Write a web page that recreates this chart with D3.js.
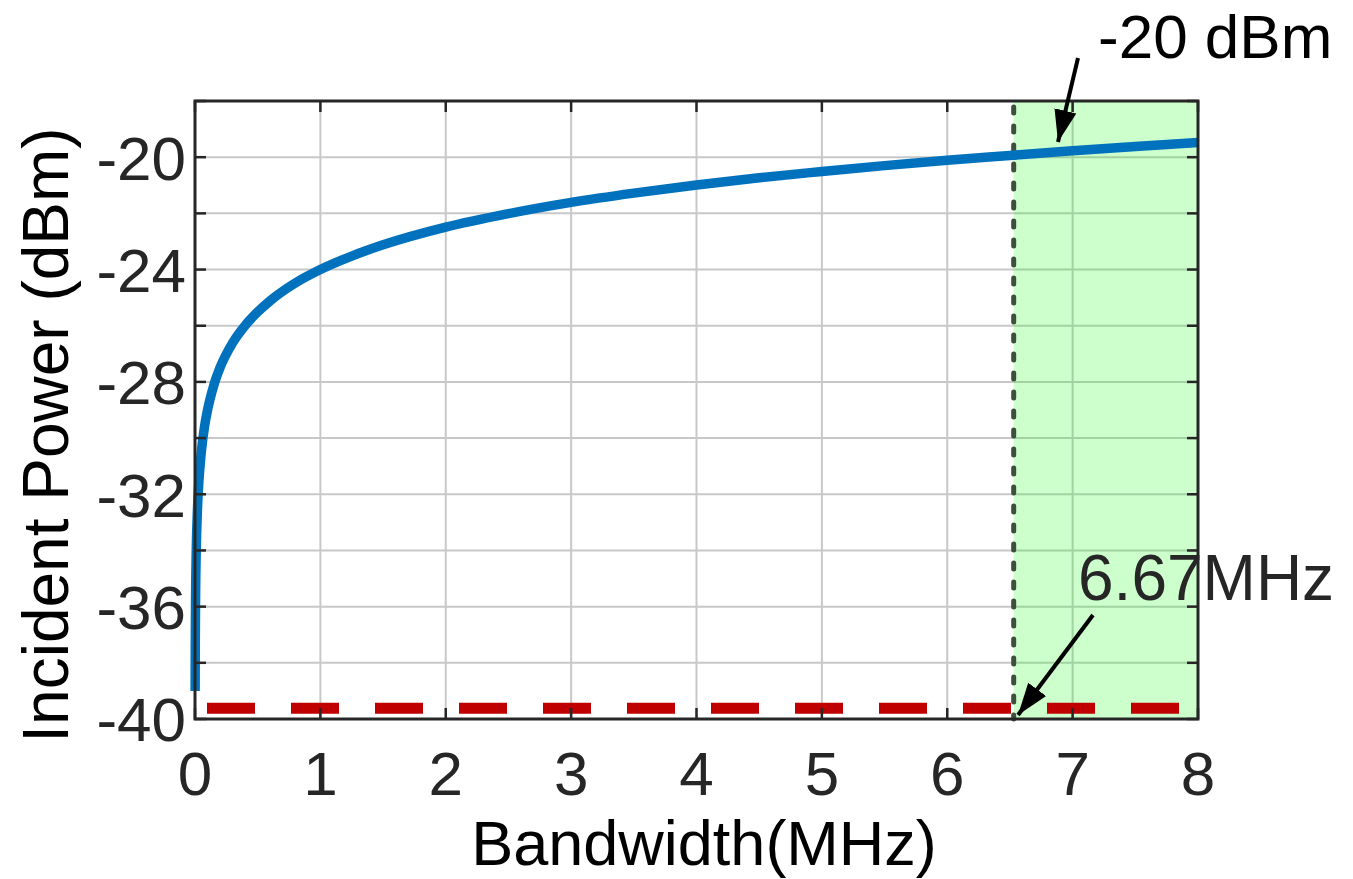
<!DOCTYPE html>
<html>
<head>
<meta charset="utf-8">
<title>Incident Power vs Bandwidth</title>
<script src="https://d3js.org/d3.v7.min.js"></script>
<style>
  body { margin: 0; background: #fff; }
  text { font-family: "Liberation Sans", Arial, sans-serif; }
</style>
</head>
<body>
<svg width="1353" height="879"></svg>
<script>
// data
const bandwidth = [0.001, 0.002, 0.005, 0.01, 0.02, 0.03, 0.05, 0.075, 0.1, 0.15, 0.2, 0.3, 0.4, 0.5, 0.6, 0.8,
                   1.0, 1.25, 1.5, 2, 2.5, 3, 3.5, 4, 4.5, 5, 5.5, 6, 6.5, 7, 7.5, 8];
const power = [-39.0, -37.49, -35.51, -34.0, -32.49, -31.61, -30.51, -29.62, -29.0, -28.12, -27.49, -26.61, -25.99, -25.51, -25.11, -24.48,
               -24.0, -23.52, -23.12, -22.49, -22.01, -21.61, -21.28, -20.99, -20.73, -20.51, -20.30, -20.11, -19.94, -19.77, -19.62, -19.48];
const xTicks = [0, 1, 2, 3, 4, 5, 6, 7, 8];
const yTicks = [-40, -38, -36, -34, -32, -30, -28, -26, -24, -22, -20, -18];
const yLabels = [-40, -36, -32, -28, -24, -20];
const limitBW = 6.53;        // shaded region starts here
const floorLevel = -39.62;   // red dashed line
const labels = { x: "Bandwidth(MHz)", y: "Incident Power (dBm)", top: "-20 dBm", bw: "6.67MHz" };

let svg = d3.select("svg");
const pl = 195, pt = 101, w = 1003, h = 618;
const ink = "#262626";

let x = d3.scaleLinear().domain([0, 8]).range([pl, pl + w]);
let y = d3.scaleLinear().domain([-40, -18]).range([pt + h, pt]);

let g = svg.append("g");

// grid
g.append("g").selectAll("line").data(xTicks).join("line")
    .attr("x1", d => x(d)).attr("x2", d => x(d))
    .attr("y1", pt).attr("y2", pt + h)
    .attr("stroke", "#c8c8c8").attr("stroke-width", 2);
g.append("g").selectAll("line").data(yTicks).join("line")
    .attr("x1", pl).attr("x2", pl + w)
    .attr("y1", d => y(d)).attr("y2", d => y(d))
    .attr("stroke", "#c8c8c8").attr("stroke-width", 2);

// shaded region (semi transparent green)
g.append("rect")
    .attr("x", x(limitBW)).attr("y", pt)
    .attr("width", x(8) - x(limitBW)).attr("height", h)
    .attr("fill", "#00ff00").attr("fill-opacity", 0.2);

// red dashed floor line
g.append("line")
    .attr("x1", x(0)).attr("x2", x(8))
    .attr("y1", y(floorLevel)).attr("y2", y(floorLevel))
    .attr("stroke", "#c00000").attr("stroke-width", 11)
    .attr("stroke-dasharray", "48,36").attr("stroke-dashoffset", -12);

// vertical dashed marker
g.append("line")
    .attr("x1", x(limitBW)).attr("x2", x(limitBW))
    .attr("y1", pt + 6).attr("y2", pt + h)
    .attr("stroke", "#3d503d").attr("stroke-width", 5)
    .attr("stroke-linecap", "round")
    .attr("stroke-dasharray", "6,13");

// curve
let line = d3.line()
    .x((d, i) => x(bandwidth[i]))
    .y(d => y(d))
    .curve(d3.curveMonotoneX);
g.append("path")
    .attr("d", line(power))
    .attr("fill", "none")
    .attr("stroke", "#0072bd")
    .attr("stroke-width", 9.5);

// ticks (inward, on all four sides)
const tl = 11;
let ticks = g.append("g").attr("stroke", ink).attr("stroke-width", 2.5);
ticks.selectAll(".tb").data(xTicks).join("line")
    .attr("x1", d => x(d)).attr("x2", d => x(d))
    .attr("y1", pt + h).attr("y2", pt + h - tl);
ticks.selectAll(".tt").data(xTicks).join("line")
    .attr("x1", d => x(d)).attr("x2", d => x(d))
    .attr("y1", pt).attr("y2", pt + tl);
ticks.selectAll(".tl").data(yTicks).join("line")
    .attr("x1", pl).attr("x2", pl + tl)
    .attr("y1", d => y(d)).attr("y2", d => y(d));
ticks.selectAll(".tr").data(yTicks).join("line")
    .attr("x1", pl + w).attr("x2", pl + w - tl)
    .attr("y1", d => y(d)).attr("y2", d => y(d));

// box
g.append("rect")
    .attr("x", pl).attr("y", pt).attr("width", w).attr("height", h)
    .attr("fill", "none").attr("stroke", ink).attr("stroke-width", 3);

// tick labels
g.append("g").selectAll("text").data(xTicks).join("text")
    .attr("x", d => x(d)).attr("y", 795)
    .attr("text-anchor", "middle")
    .attr("font-size", 62).attr("fill", ink)
    .text(d => d);
g.append("g").selectAll("text").data(yLabels).join("text")
    .attr("x", pl - 9).attr("y", d => y(d))
    .attr("dy", "0.36em")
    .attr("text-anchor", "end")
    .attr("font-size", 62).attr("fill", ink)
    .text(d => d);

// axis titles
svg.append("text")
    .attr("x", 704).attr("y", 865)
    .attr("text-anchor", "middle")
    .attr("font-size", 63).attr("fill", "#000")
    .text(labels.x);
svg.append("text")
    .attr("transform", "translate(68,435) rotate(-90)")
    .attr("text-anchor", "middle")
    .attr("font-size", 64).attr("fill", "#000")
    .text(labels.y);

// annotations
svg.append("defs").append("marker")
    .attr("id", "head").attr("viewBox", "0 0 10 10")
    .attr("refX", 10).attr("refY", 5)
    .attr("markerWidth", 8).attr("markerHeight", 8)
    .attr("markerUnits", "strokeWidth")
    .attr("orient", "auto")
  .append("path").attr("d", "M0,1.5 L10,5 L0,8.5 Z").attr("fill", "#000");

svg.append("line")
    .attr("x1", 1078).attr("y1", 58).attr("x2", 1058).attr("y2", 142)
    .attr("stroke", "#000").attr("stroke-width", 4)
    .attr("marker-end", "url(#head)");
svg.append("line")
    .attr("x1", 1093).attr("y1", 615).attr("x2", 1018).attr("y2", 715)
    .attr("stroke", "#000").attr("stroke-width", 4)
    .attr("marker-end", "url(#head)");

svg.append("text")
    .attr("x", 1098).attr("y", 58)
    .attr("font-size", 62).attr("fill", "#000")
    .text(labels.top);
svg.append("text")
    .attr("x", 1078).attr("y", 600)
    .attr("font-size", 64).attr("fill", ink)
    .text(labels.bw);
</script>
</body>
</html>
